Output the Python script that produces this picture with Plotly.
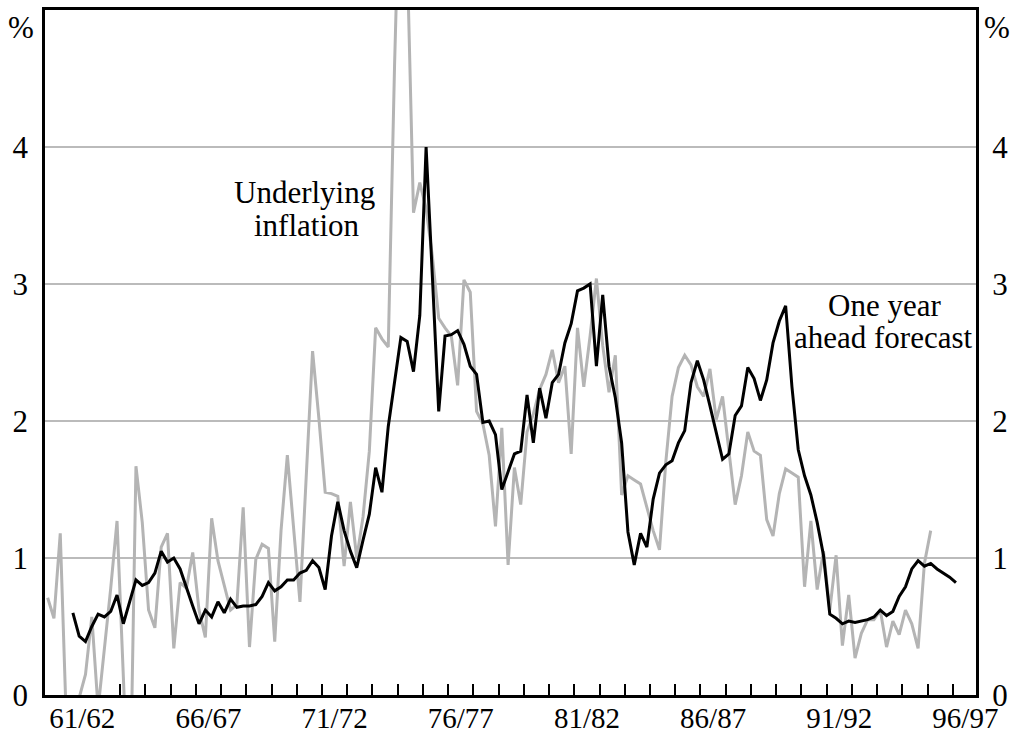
import numpy as np
import plotly.graph_objects as go

# ---- data (quarterly, % change) ----
# Underlying inflation: quarterly from Sep quarter 1960
underlying = [
    0.71, 0.56, 1.18, -0.25, -0.40, -0.02, 0.15, 0.57, -0.10, 0.32,
    0.78, 1.27, -0.10, -1.00, 1.67, 1.26, 0.62, 0.49, 1.08, 1.18,
    0.34, 0.82, 0.78, 1.04, 0.62, 0.42, 1.29, 0.98, 0.80, 0.62,
    0.66, 1.37, 0.35, 0.99, 1.10, 1.07, 0.39, 1.20, 1.75, 1.20,
    0.68, 1.60, 2.51, 2.02, 1.48, 1.47, 1.45, 0.94, 1.41, 1.00,
    1.30, 1.78, 2.68, 2.60, 2.54, 4.60, 6.30, 5.40, 3.52, 3.74,
    3.55, 3.20, 2.75, 2.68, 2.62, 2.26, 3.03, 2.94, 2.07, 1.98,
    1.75, 1.23, 1.95, 0.95, 1.66, 1.39, 1.92, 2.05, 2.23, 2.34,
    2.52, 2.28, 2.40, 1.76, 2.68, 2.25, 2.62, 3.04, 2.55, 2.21,
    2.48, 1.46, 1.60, 1.57, 1.54, 1.37, 1.20, 1.06, 1.70, 2.18,
    2.39, 2.48, 2.41, 2.25, 2.18, 2.38, 2.01, 2.18, 1.80, 1.39,
    1.60, 1.92, 1.78, 1.75, 1.28, 1.16, 1.47, 1.65, 1.62, 1.59,
    0.79, 1.27, 0.77, 1.05, 0.62, 1.02, 0.36, 0.73, 0.27, 0.45,
    0.55, 0.55, 0.62, 0.35, 0.54, 0.44, 0.62, 0.52, 0.34, 0.96,
    1.20,
]
underlying_start = 1960.625  # mid Sep quarter 1960

# One year ahead forecast: quarterly from Sep quarter 1961
forecast = [
    0.60, 0.43, 0.39, 0.50, 0.59, 0.57, 0.61, 0.73, 0.52, 0.68,
    0.84, 0.80, 0.82, 0.89, 1.05, 0.97, 1.00, 0.92, 0.78, 0.65,
    0.52, 0.62, 0.57, 0.68, 0.60, 0.70, 0.64, 0.65, 0.65, 0.66,
    0.72, 0.82, 0.76, 0.79, 0.84, 0.84, 0.89, 0.91, 0.98, 0.93,
    0.77, 1.16, 1.41, 1.20, 1.05, 0.93, 1.13, 1.32, 1.66, 1.48,
    1.96, 2.29, 2.61, 2.58, 2.36, 2.77, 4.00, 3.05, 2.07, 2.62,
    2.63, 2.66, 2.56, 2.40, 2.34, 1.99, 2.00, 1.90, 1.50, 1.63,
    1.76, 1.78, 2.19, 1.84, 2.24, 2.02, 2.28, 2.34, 2.57, 2.71,
    2.95, 2.97, 3.00, 2.40, 2.92, 2.40, 2.17, 1.84, 1.19, 0.95,
    1.18, 1.08, 1.43, 1.62, 1.68, 1.71, 1.84, 1.93, 2.28, 2.44,
    2.30, 2.11, 1.92, 1.72, 1.76, 2.04, 2.11, 2.39, 2.31, 2.15,
    2.30, 2.57, 2.73, 2.84, 2.25, 1.79, 1.60, 1.46, 1.26, 1.02,
    0.59, 0.56, 0.52, 0.54, 0.53, 0.54, 0.55, 0.57, 0.62, 0.58,
    0.61, 0.72, 0.79, 0.92, 0.98, 0.94, 0.96, 0.92, 0.89, 0.86,
    0.82,
]
forecast_start = 1961.625  # mid Sep quarter 1961

# x-axis: financial-year labels (centred in each year) and year-boundary ticks
fy_labels = ["61/62", "66/67", "71/72", "76/77", "81/82", "86/87", "91/92", "96/97"]
fy_label_pos = [1962.0, 1967.0, 1972.0, 1977.0, 1982.0, 1987.0, 1992.0, 1997.0]
fy_tick_pos = [1963.5 + i for i in range(34)]
y_ticks = [0, 1, 2, 3, 4]

x_under = underlying_start + 0.25 * np.arange(len(underlying))
x_fore = forecast_start + 0.25 * np.arange(len(forecast))

FONT = "Liberation Serif, Times New Roman, serif"
FS = 31
GREY = "#b4b4b4"

fig = go.Figure()
fig.add_trace(go.Scatter(x=x_under, y=underlying, mode="lines",
                         line=dict(color=GREY, width=3), name="Underlying inflation",
                         yaxis="y"))
fig.add_trace(go.Scatter(x=x_fore, y=forecast, mode="lines",
                         line=dict(color="black", width=3), name="One year ahead forecast",
                         yaxis="y2"))


def label(text, x, y):
    return dict(text=text, xref="paper", yref="paper", x=x, y=y,
                xanchor="center", yanchor="middle", showarrow=False,
                font=dict(family=FONT, size=FS))


fig.update_layout(
    width=1010, height=736,
    margin=dict(l=45, r=34, t=10, b=41, autoexpand=False),
    plot_bgcolor="white", paper_bgcolor="white",
    showlegend=False,
    font=dict(family=FONT, size=FS, color="black"),
    xaxis=dict(
        range=[1960.52, 1997.42], automargin=False,
        tickmode="array", tickvals=fy_label_pos, ticktext=fy_labels,
        tickfont=dict(family=FONT, size=29),
        ticks="", ticklabelstandoff=-5, showgrid=False, zeroline=False,
        showline=True, linecolor="black", linewidth=2.5, mirror=True,
        minor=dict(tickmode="array", tickvals=fy_tick_pos, ticks="inside",
                   ticklen=11, tickwidth=2, tickcolor="black", showgrid=False),
    ),
    yaxis=dict(
        range=[0, 5], tickmode="array", tickvals=y_ticks, automargin=False,
        showgrid=True, gridcolor="#bbbbbb", gridwidth=2, zeroline=False,
        showline=True, linecolor="black", linewidth=2.5, mirror=True,
        ticks="outside", ticklen=8, tickcolor="rgba(0,0,0,0)",
    ),
    yaxis2=dict(
        range=[0, 5], overlaying="y", side="right", tickmode="array", tickvals=y_ticks,
        automargin=False, showgrid=False, zeroline=False, showline=False,
        ticks="outside", ticklen=9, tickcolor="rgba(0,0,0,0)",
    ),
    annotations=[
        label("Underlying", 0.279, 0.7343),
        label("inflation", 0.281, 0.6861),
        label("One year", 0.9015, 0.5693),
        label("ahead forecast", 0.901, 0.5212),
        label("%", -0.0258, 0.975),
        label("%", 1.0226, 0.975),
    ],
)

# remove the default page margin so the figure sits at the window's corner
fig.write_html("out.html",
               config={"displayModeBar": False},
               post_script="document.body.style.margin='0';"
                           "document.body.style.overflow='hidden';")
